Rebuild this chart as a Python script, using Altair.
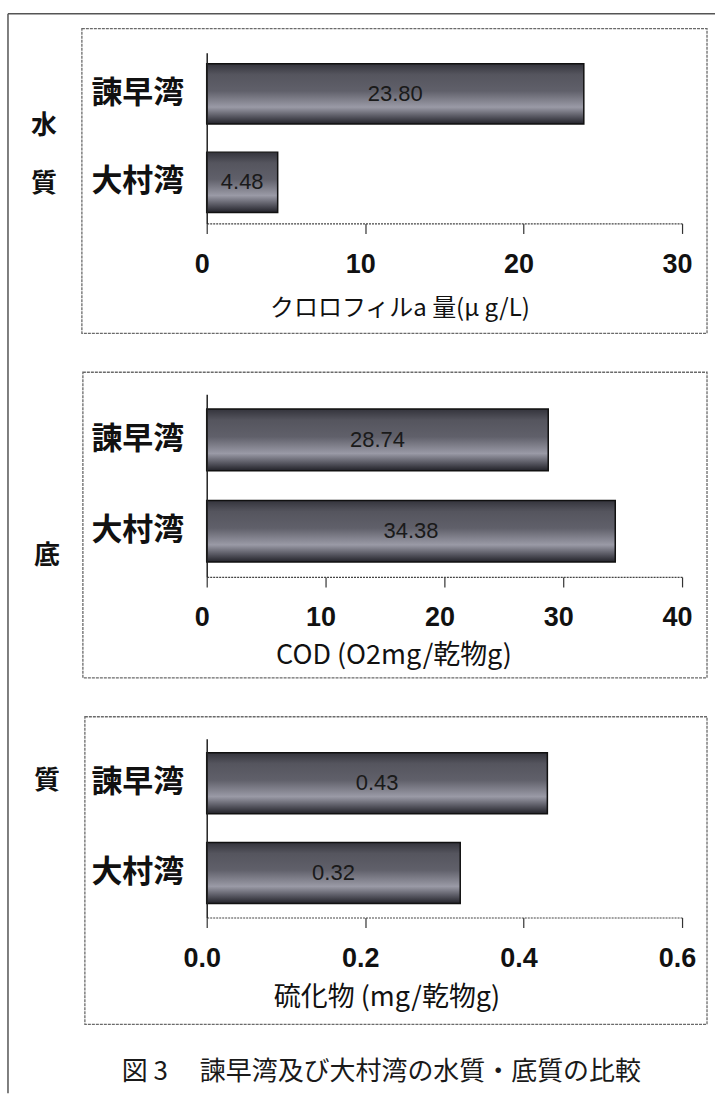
import altair as alt
import pandas as pd

# ---- data ----
bays = ["諫早湾", "大村湾"]
chl_values = [23.80, 4.48]
chl_labels = ["23.80", "4.48"]
cod_values = [28.74, 34.38]
cod_labels = ["28.74", "34.38"]
sul_values = [0.43, 0.32]
sul_labels = ["0.43", "0.32"]
chl_ticks = [0, 10, 20, 30]
cod_ticks = [0, 10, 20, 30, 40]
sul_ticks = [0.0, 0.2, 0.4, 0.6]
axis_titles = ["クロロフィルa 量(μ g/L)", "COD (O2mg/乾物g)", "硫化物 (mg/乾物g)"]
side_labels = ["水", "質", "底", "質"]
caption = "図 3　 諫早湾及び大村湾の水質・底質の比較"

JP = "Noto Sans CJK JP"
NUM = "Liberation Sans"
NARROW = "Liberation Sans Narrow, Liberation Sans"

# plot-area geometry
PW = 476
OX, OY = 207, 52  # absolute origin of first plot area

grad = alt.Gradient(
    gradient="linear",
    stops=[
        alt.GradientStop(color="#34343c", offset=0.0),
        alt.GradientStop(color="#55555e", offset=0.18),
        alt.GradientStop(color="#60606a", offset=0.45),
        alt.GradientStop(color="#9a9aa6", offset=0.72),
        alt.GradientStop(color="#55555f", offset=0.88),
        alt.GradientStop(color="#222229", offset=1.0),
    ],
    x1=0, x2=0, y1=0, y2=1,
)


def panel(values, labels, domain, ticks, fmt, title, title_x, title_y, title_size, pad_inner, pad_outer):
    df = pd.DataFrame({"bay": bays, "v": values, "lab": labels})
    base = alt.Chart(df)
    y = alt.Y(
        "bay:N",
        sort=bays,
        scale=alt.Scale(paddingInner=pad_inner, paddingOuter=pad_outer),
        axis=alt.Axis(
            title=None, ticks=False, labelFont=JP, labelFontSize=31,
            labelFontWeight="bold", labelColor="#111", labelPadding=23,
            domainColor="#222", domainWidth=1.5, zindex=1,
        ),
    )
    x = alt.X(
        "v:Q",
        scale=alt.Scale(domain=domain, nice=False, zero=True),
        axis=alt.Axis(
            values=ticks, format=fmt, title=title, grid=False, zindex=1,
            tickSize=10, tickColor="#333", tickWidth=1.2,
            domainColor="#444", domainDash=[2, 1], domainWidth=1.2,
            labelFont=NUM, labelFontSize=27, labelFontWeight="bold",
            labelColor="#111", labelPadding=18, labelFlush=False, labelOffset=-5,
            titleFont=JP, titleFontSize=title_size, titleFontWeight="normal",
            titleColor="#111", titleX=title_x, titleY=title_y,
            titleBaseline="middle", titleAlign="center",
        ),
    )
    bars = base.mark_bar(fill=grad, stroke="#111", strokeWidth=1.5).encode(x=x, y=y)
    text = base.transform_calculate(mid="datum.v / 2").mark_text(
        font=NARROW, fontSize=22, color="#1a1a1a"
    ).encode(x=alt.X("mid:Q"), y=alt.Y("bay:N", sort=bays), text="lab:N")
    return [bars, text]


one = pd.DataFrame({"k": [0]})


def px(v):
    return v - OX


def py(v):
    return v - OY


deco = []
# white canvas background (fixes overall canvas bounds)
deco.append(alt.Chart(one).mark_rect(fill="white", strokeWidth=0).encode(
    x=alt.value(px(0)), x2=alt.value(px(716)), y=alt.value(py(0)), y2=alt.value(py(1094))))
# outer frame (left + top)
deco.append(alt.Chart(one).mark_rule(color="#555", strokeWidth=1.5).encode(
    x=alt.value(px(8)), y=alt.value(py(13)), y2=alt.value(py(1094))))
deco.append(alt.Chart(one).mark_rule(color="#555", strokeWidth=1.5).encode(
    x=alt.value(px(8)), x2=alt.value(px(716)), y=alt.value(py(13))))
# panel boxes
boxes = [(82, 28, 708, 333), (83, 372, 708, 678), (85, 717, 708, 1025)]
for (x0, y0, x1, y1) in boxes:
    deco.append(alt.Chart(one).mark_rect(
        fillOpacity=0, stroke="#6a6a6a", strokeWidth=1.3, strokeDash=[3, 1]
    ).encode(x=alt.value(px(x0)), x2=alt.value(px(x1)), y=alt.value(py(y0)), y2=alt.value(py(y1))))
# side labels
side_pos = [(44, 125), (44, 184), (47, 556), (47, 781)]
for lab, (sx, sy) in zip(side_labels, side_pos):
    deco.append(alt.Chart(one).mark_text(
        font=JP, fontSize=26, fontWeight="bold", color="#111", baseline="middle"
    ).encode(x=alt.value(px(sx)), y=alt.value(py(sy)), text=alt.value(lab)))
# caption
deco.append(alt.Chart(one).mark_text(
    font=JP, fontSize=26, color="#1a1a1a", align="left", baseline="middle"
).encode(x=alt.value(px(122)), y=alt.value(py(1073)), text=alt.value(caption)))

l1 = panel(chl_values, chl_labels, [0, 30], chl_ticks, "d", axis_titles[0], 193, 85, 24, 0.318, 0.125)
l2 = panel(cod_values, cod_labels, [0, 40], cod_ticks, "d", axis_titles[1], 187, 79, 27, 0.326, 0.163)
l3 = panel(sul_values, sul_labels, [0, 0.6], sul_ticks, ".1f", axis_titles[2], 180, 80, 27, 0.322, 0.156)

p1 = alt.layer(*deco, *l1).properties(width=PW, height=171)
p2 = alt.layer(*l2).properties(width=PW, height=183)
p3 = alt.layer(*l3).properties(width=PW, height=179)

lower = alt.vconcat(p2, p3, spacing=162, bounds="flush")
chart = alt.vconcat(p1, lower, spacing=171, bounds="flush").properties(
    padding=0, background="white"
).configure_view(strokeWidth=0)

chart.save("out.html", embed_options={"renderer": "svg", "actions": False})
